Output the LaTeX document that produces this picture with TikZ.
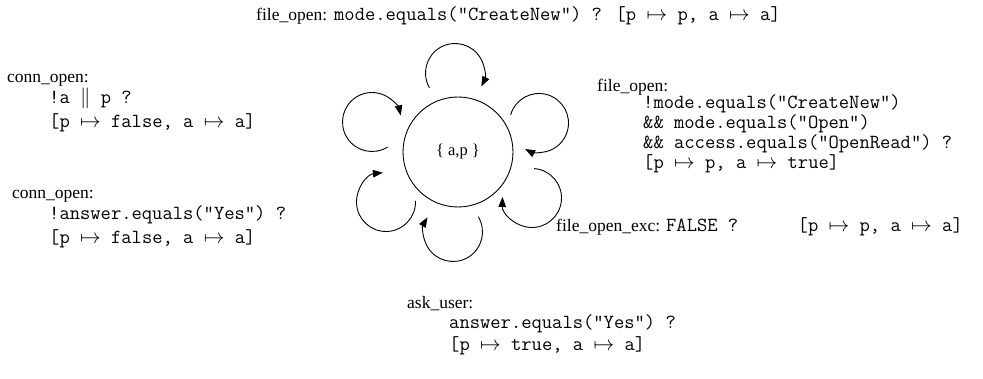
\documentclass[tikz,border=0pt]{standalone}
\usepackage{fontspec}
\setmainfont{Liberation Serif}
\usetikzlibrary{arrows.meta}
\newcommand{\cd}[1]{{\ttfamily\fontsize{20}{24}\selectfont #1}}
\begin{document}
\begin{tikzpicture}[x=1pt,y=-1pt,
  lab/.style={anchor=base west, inner sep=0pt, font=\fontsize{17.5}{20}\selectfont},
  code/.style={anchor=base west, inner sep=0pt, font=\ttfamily\fontsize{20}{24}\selectfont},
  loopline/.style={line width=0.9pt, -{Triangle[length=10pt,width=7.5pt]}}]
\useasboundingbox (0,0) rectangle (983,379);
\node[draw, circle, minimum size=110pt, inner sep=0pt, line width=0.9pt,
      font=\fontsize{16.5}{18}\selectfont] (s) at (458,152) {\{ a,p \}};
% self loops
\draw[loopline] ([shift={(-3,-79)}]s.center) ++(150:29.5) arc[start angle=150, end angle=387, radius=29.5];
\draw[loopline] ([shift={(-86,-30)}]s.center) ++(58:29.5) arc[start angle=58, end angle=347, radius=29.5];
\draw[loopline] ([shift={(81,-29)}]s.center) ++(196:29.5) arc[start angle=196, end angle=478, radius=29.5];
\draw[loopline] ([shift={(-72,50)}]s.center) ++(358:29.5) arc[start angle=358, end angle=624, radius=29.5];
\draw[loopline] ([shift={(74,46)}]s.center) ++(274:29.5) arc[start angle=274, end angle=542, radius=29.5];
\draw[loopline] ([shift={(-5,80)}]s.center) ++(329:29.5) arc[start angle=329, end angle=570, radius=29.5];
% labels
\node[lab] (t0) at (256,21) {file\_open:\hspace{7pt}\cd{mode.equals("CreateNew") ? [p $\mapsto$ p, a $\mapsto$ a]}};
\node[lab] (l1) at (7,83) {conn\_open:};
\node[code] (l1a) at (49,104) {!a $\|$ p ?};
\node[code] (l1b) at (49,128) {[p $\mapsto$ false, a $\mapsto$ a]};
\node[lab] (l2) at (12,199) {conn\_open:};
\node[code] (l2a) at (49,220) {!answer.equals("Yes") ?};
\node[code] (l2b) at (49,244) {[p $\mapsto$ false, a $\mapsto$ a]};
\node[lab] (r1) at (597,92) {file\_open:};
\node[code] (r1a) at (643,109) {!mode.equals("CreateNew")};
\node[code] (r1b) at (643,129) {\&\& mode.equals("Open")};
\node[code] (r1c) at (643,149) {\&\& access.equals("OpenRead") ?};
\node[code] (r1d) at (643,169) {[p $\mapsto$ p, a $\mapsto$ true]};
\node[lab] (r2) at (556,232) {file\_open\_exc:\hspace{6pt}\cd{FALSE ?}};
\node[code, anchor=base east] (r2b) at (963,232) {[p $\mapsto$ p, a $\mapsto$ a]};
\node[lab] (b1) at (407,309) {ask\_user:};
\node[code] (b1a) at (449,329) {answer.equals("Yes") ?};
\node[code] (b1b) at (449,351) {[p $\mapsto$ true, a $\mapsto$ a]};
\end{tikzpicture}
\end{document}
